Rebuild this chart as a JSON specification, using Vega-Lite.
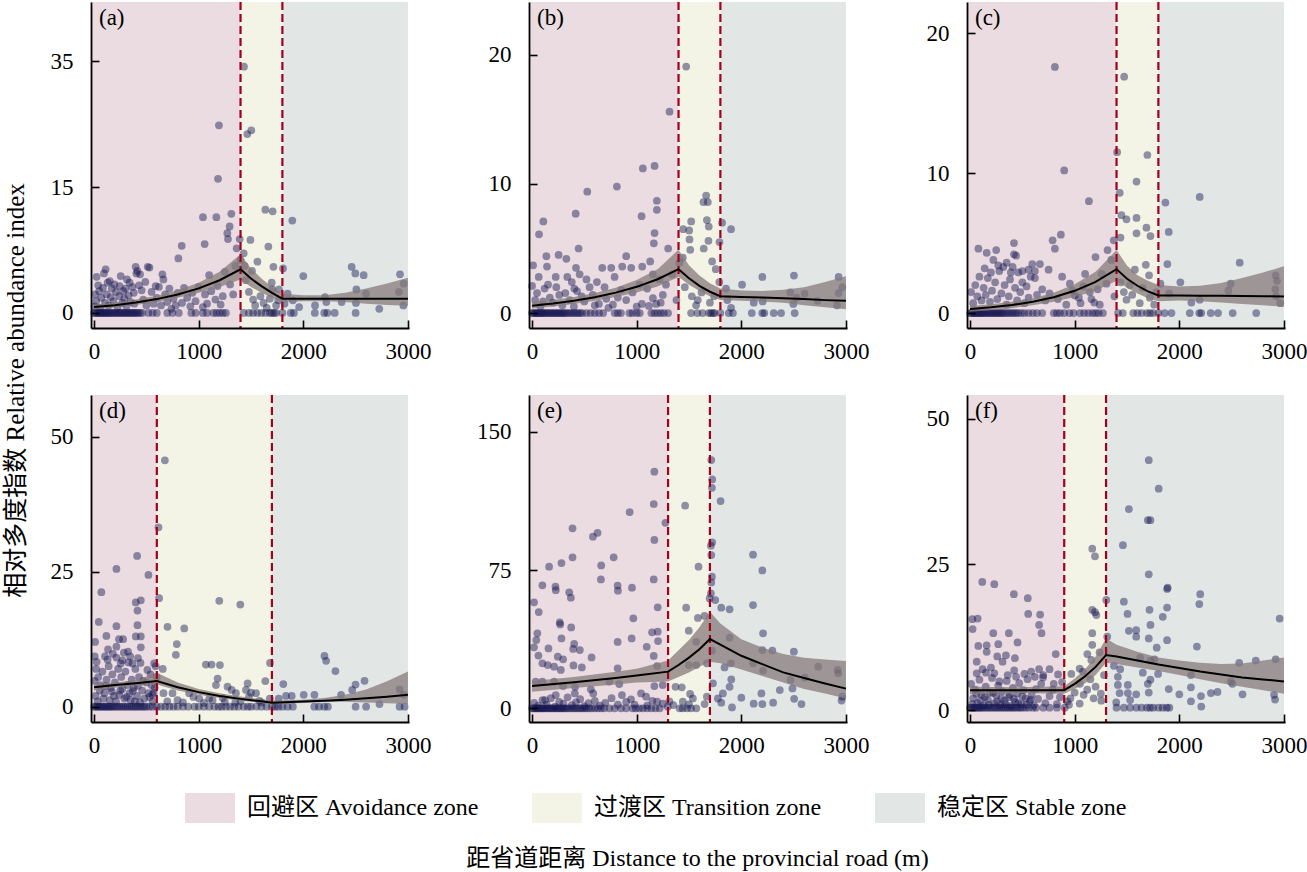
{
  "$schema": "https://vega.github.io/schema/vega-lite/v6.json",
  "background": "white",
  "padding": {"left": 3, "top": 0, "right": 5, "bottom": 2},
  "config": {
    "font": "'Liberation Serif', 'Noto Sans CJK SC'",
    "view": {"stroke": null},
    "axis": {
      "grid": false, "labelFontSize": 23, "labelColor": "#000",
      "domainColor": "#000", "domainWidth": 1.8, "tickColor": "#000",
      "tickWidth": 1.6, "tickSize": -8, "labelFlush": false,
      "titleFontSize": 24, "titleFontWeight": "normal", "titleColor": "#000"
    },
    "axisX": {"labelPadding": 20, "format": "d"},
    "axisY": {"labelPadding": 26}
  },
  "datasets": {
    "zones": [
      {"p":"a","zone":"回避区 Avoidance zone","x0":-29,"x1":1400},{"p":"a","zone":"过渡区 Transition zone","x0":1400,"x1":1800},{"p":"a","zone":"稳定区 Stable zone","x0":1800,"x1":3000},
      {"p":"b","zone":"回避区 Avoidance zone","x0":-29,"x1":1400},{"p":"b","zone":"过渡区 Transition zone","x0":1400,"x1":1800},{"p":"b","zone":"稳定区 Stable zone","x0":1800,"x1":3000},
      {"p":"c","zone":"回避区 Avoidance zone","x0":-29,"x1":1400},{"p":"c","zone":"过渡区 Transition zone","x0":1400,"x1":1800},{"p":"c","zone":"稳定区 Stable zone","x0":1800,"x1":3000},
      {"p":"d","zone":"回避区 Avoidance zone","x0":-29,"x1":600},{"p":"d","zone":"过渡区 Transition zone","x0":600,"x1":1700},{"p":"d","zone":"稳定区 Stable zone","x0":1700,"x1":3000},
      {"p":"e","zone":"回避区 Avoidance zone","x0":-29,"x1":1300},{"p":"e","zone":"过渡区 Transition zone","x0":1300,"x1":1700},{"p":"e","zone":"稳定区 Stable zone","x0":1700,"x1":3000},
      {"p":"f","zone":"回避区 Avoidance zone","x0":-29,"x1":900},{"p":"f","zone":"过渡区 Transition zone","x0":900,"x1":1300},{"p":"f","zone":"稳定区 Stable zone","x0":1300,"x1":3000}
    ],
    "bps": [
      {"p":"a","x":1400},{"p":"a","x":1800},{"p":"b","x":1400},{"p":"b","x":1800},{"p":"c","x":1400},{"p":"c","x":1800},
      {"p":"d","x":600},{"p":"d","x":1700},{"p":"e","x":1300},{"p":"e","x":1700},{"p":"f","x":900},{"p":"f","x":1300}
    ],
    "fit": [
      {"p":"a","x":0,"fit":0.7,"lo":0.4,"hi":1.0},{"p":"a","x":200,"fit":0.93,"lo":0.65,"hi":1.25},{"p":"a","x":400,"fit":1.24,"lo":0.95,"hi":1.6},{"p":"a","x":600,"fit":1.65,"lo":1.3,"hi":2.05},{"p":"a","x":800,"fit":2.2,"lo":1.8,"hi":2.7},{"p":"a","x":1000,"fit":2.93,"lo":2.4,"hi":3.6},{"p":"a","x":1200,"fit":3.9,"lo":3.1,"hi":4.9},{"p":"a","x":1400,"fit":5.2,"lo":4.0,"hi":7.0},{"p":"a","x":1500,"fit":4.1,"lo":3.1,"hi":5.3},{"p":"a","x":1600,"fit":3.2,"lo":2.4,"hi":4.1},{"p":"a","x":1700,"fit":2.4,"lo":1.8,"hi":3.1},{"p":"a","x":1800,"fit":1.7,"lo":1.3,"hi":2.3},{"p":"a","x":2000,"fit":1.7,"lo":1.4,"hi":2.1},{"p":"a","x":2200,"fit":1.7,"lo":1.4,"hi":2.1},{"p":"a","x":2400,"fit":1.7,"lo":1.3,"hi":2.4},{"p":"a","x":2600,"fit":1.7,"lo":1.1,"hi":2.9},{"p":"a","x":2800,"fit":1.7,"lo":0.95,"hi":3.5},{"p":"a","x":3000,"fit":1.7,"lo":0.85,"hi":4.2},
      {"p":"b","x":0,"fit":0.57,"lo":0.35,"hi":0.85},{"p":"b","x":200,"fit":0.74,"lo":0.5,"hi":1.0},{"p":"b","x":400,"fit":0.95,"lo":0.7,"hi":1.25},{"p":"b","x":600,"fit":1.22,"lo":0.95,"hi":1.55},{"p":"b","x":800,"fit":1.58,"lo":1.25,"hi":1.95},{"p":"b","x":1000,"fit":2.03,"lo":1.6,"hi":2.55},{"p":"b","x":1200,"fit":2.62,"lo":2.05,"hi":3.4},{"p":"b","x":1400,"fit":3.4,"lo":2.8,"hi":4.9},{"p":"b","x":1500,"fit":2.7,"lo":2.2,"hi":3.7},{"p":"b","x":1600,"fit":2.1,"lo":1.7,"hi":2.9},{"p":"b","x":1700,"fit":1.65,"lo":1.3,"hi":2.3},{"p":"b","x":1800,"fit":1.3,"lo":1.0,"hi":1.9},{"p":"b","x":2000,"fit":1.25,"lo":0.95,"hi":1.75},{"p":"b","x":2200,"fit":1.2,"lo":0.9,"hi":1.7},{"p":"b","x":2400,"fit":1.15,"lo":0.8,"hi":1.8},{"p":"b","x":2600,"fit":1.08,"lo":0.6,"hi":2.0},{"p":"b","x":2800,"fit":1.0,"lo":0.45,"hi":2.4},{"p":"b","x":3000,"fit":0.95,"lo":0.3,"hi":2.85},
      {"p":"c","x":0,"fit":0.29,"lo":0.1,"hi":0.5},{"p":"c","x":200,"fit":0.41,"lo":0.2,"hi":0.62},{"p":"c","x":400,"fit":0.57,"lo":0.35,"hi":0.8},{"p":"c","x":600,"fit":0.8,"lo":0.55,"hi":1.05},{"p":"c","x":800,"fit":1.13,"lo":0.8,"hi":1.45},{"p":"c","x":1000,"fit":1.59,"lo":1.15,"hi":2.05},{"p":"c","x":1200,"fit":2.23,"lo":1.6,"hi":2.95},{"p":"c","x":1400,"fit":3.14,"lo":2.3,"hi":4.5},{"p":"c","x":1500,"fit":2.45,"lo":1.8,"hi":3.4},{"p":"c","x":1600,"fit":1.95,"lo":1.4,"hi":2.7},{"p":"c","x":1700,"fit":1.55,"lo":1.05,"hi":2.3},{"p":"c","x":1800,"fit":1.26,"lo":0.85,"hi":2.0},{"p":"c","x":2000,"fit":1.25,"lo":0.9,"hi":1.9},{"p":"c","x":2200,"fit":1.24,"lo":0.85,"hi":1.95},{"p":"c","x":2400,"fit":1.23,"lo":0.75,"hi":2.15},{"p":"c","x":2600,"fit":1.22,"lo":0.65,"hi":2.5},{"p":"c","x":2800,"fit":1.2,"lo":0.55,"hi":2.9},{"p":"c","x":3000,"fit":1.19,"lo":0.45,"hi":3.35},
      {"p":"d","x":0,"fit":3.6,"lo":3.0,"hi":4.3},{"p":"d","x":200,"fit":4.0,"lo":3.5,"hi":4.5},{"p":"d","x":400,"fit":4.35,"lo":3.9,"hi":4.9},{"p":"d","x":600,"fit":4.75,"lo":4.1,"hi":6.3},{"p":"d","x":800,"fit":3.6,"lo":3.0,"hi":4.5},{"p":"d","x":1000,"fit":2.7,"lo":2.2,"hi":3.3},{"p":"d","x":1200,"fit":2.0,"lo":1.6,"hi":2.5},{"p":"d","x":1400,"fit":1.45,"lo":1.1,"hi":1.9},{"p":"d","x":1600,"fit":1.0,"lo":0.7,"hi":1.4},{"p":"d","x":1700,"fit":0.75,"lo":0.5,"hi":1.15},{"p":"d","x":2000,"fit":0.95,"lo":0.7,"hi":1.3},{"p":"d","x":2200,"fit":1.1,"lo":0.85,"hi":1.6},{"p":"d","x":2400,"fit":1.3,"lo":0.9,"hi":2.2},{"p":"d","x":2600,"fit":1.55,"lo":0.8,"hi":3.2},{"p":"d","x":2800,"fit":1.85,"lo":0.65,"hi":4.7},{"p":"d","x":3000,"fit":2.2,"lo":0.5,"hi":6.5},
      {"p":"e","x":0,"fit":12.1,"lo":9.0,"hi":14.8},{"p":"e","x":400,"fit":14.2,"lo":11.0,"hi":17.0},{"p":"e","x":800,"fit":16.5,"lo":13.0,"hi":19.8},{"p":"e","x":1000,"fit":17.8,"lo":14.0,"hi":21.5},{"p":"e","x":1300,"fit":19.9,"lo":14.5,"hi":26.0},{"p":"e","x":1400,"fit":23.5,"lo":17.0,"hi":31.5},{"p":"e","x":1500,"fit":27.5,"lo":19.5,"hi":37.0},{"p":"e","x":1600,"fit":32.0,"lo":22.5,"hi":44.0},{"p":"e","x":1700,"fit":37.6,"lo":25.3,"hi":52.4},{"p":"e","x":1800,"fit":34.5,"lo":24.5,"hi":46.0},{"p":"e","x":2000,"fit":28.5,"lo":21.0,"hi":37.5},{"p":"e","x":2200,"fit":24.0,"lo":17.5,"hi":33.0},{"p":"e","x":2400,"fit":19.5,"lo":14.0,"hi":29.5},{"p":"e","x":2600,"fit":16.5,"lo":10.5,"hi":27.5},{"p":"e","x":2800,"fit":13.5,"lo":8.0,"hi":26.5},{"p":"e","x":3000,"fit":10.7,"lo":5.4,"hi":25.7},
      {"p":"f","x":0,"fit":3.4,"lo":2.7,"hi":4.0},{"p":"f","x":450,"fit":3.4,"lo":2.9,"hi":3.9},{"p":"f","x":900,"fit":3.4,"lo":2.8,"hi":4.1},{"p":"f","x":1000,"fit":4.5,"lo":3.6,"hi":5.4},{"p":"f","x":1100,"fit":5.8,"lo":4.6,"hi":7.0},{"p":"f","x":1200,"fit":7.4,"lo":6.0,"hi":9.2},{"p":"f","x":1300,"fit":9.45,"lo":8.1,"hi":12.3},{"p":"f","x":1400,"fit":9.2,"lo":7.9,"hi":11.2},{"p":"f","x":1600,"fit":8.5,"lo":7.3,"hi":10.0},{"p":"f","x":1800,"fit":7.8,"lo":6.7,"hi":9.0},{"p":"f","x":2000,"fit":7.2,"lo":6.0,"hi":8.5},{"p":"f","x":2200,"fit":6.6,"lo":5.3,"hi":8.1},{"p":"f","x":2400,"fit":6.1,"lo":4.6,"hi":7.9},{"p":"f","x":2600,"fit":5.6,"lo":4.0,"hi":8.0},{"p":"f","x":2800,"fit":5.25,"lo":3.4,"hi":8.5},{"p":"f","x":3000,"fit":4.9,"lo":2.8,"hi":9.0}
    ],
    "pts": [
      {"p":"a","x":1433,"y":34.1},{"p":"a","x":1194,"y":24.8},{"p":"a","x":1465,"y":23.4},{"p":"a","x":1503,"y":24.0},{"p":"a","x":1185,"y":16.3},{"p":"a","x":1041,"y":11.4},{"p":"a","x":1169,"y":11.4},{"p":"a","x":1312,"y":11.8},{"p":"a","x":1296,"y":10.3},{"p":"a","x":1274,"y":9.5},{"p":"a","x":1280,"y":8.8},{"p":"a","x":1392,"y":8.8},{"p":"a","x":1494,"y":8.7},{"p":"a","x":1637,"y":12.3},{"p":"a","x":1707,"y":12.1},{"p":"a","x":1895,"y":11.0},{"p":"a","x":838,"y":8.0},{"p":"a","x":806,"y":6.5},{"p":"a","x":1057,"y":8.2},{"p":"a","x":1363,"y":7.7},{"p":"a","x":1430,"y":7.1},{"p":"a","x":1666,"y":7.9},{"p":"a","x":1561,"y":6.1},{"p":"a","x":1714,"y":5.5},{"p":"a","x":1806,"y":5.3},{"p":"a","x":2000,"y":4.4},{"p":"a","x":2462,"y":5.5},{"p":"a","x":2497,"y":4.7},{"p":"a","x":2577,"y":4.5},{"p":"a","x":2924,"y":4.6},{"p":"a","x":2959,"y":3.5},{"p":"a","x":2914,"y":2.5},{"p":"a","x":2599,"y":2.3},{"p":"a","x":2507,"y":2.8},{"p":"a","x":2366,"y":1.3},{"p":"a","x":2207,"y":1.9},{"p":"a","x":2503,"y":1.2},{"p":"a","x":2726,"y":0.5},{"p":"a","x":2956,"y":0.9},{"p":"a","x":2112,"y":0.9},{"p":"a","x":1768,"y":2.8},{"p":"a","x":1698,"y":3.6},{"p":"a","x":1704,"y":2.8},{"p":"a","x":1450,"y":3.9},{"p":"a","x":1480,"y":2.5},{"p":"a","x":1520,"y":1.6},{"p":"a","x":1540,"y":0.9},{"p":"a","x":1590,"y":2.0},{"p":"a","x":1620,"y":1.2},{"p":"a","x":1650,"y":0.6},{"p":"a","x":1680,"y":1.7},{"p":"a","x":1740,"y":0.9},{"p":"a","x":1760,"y":1.5},{"p":"a","x":1820,"y":1.1},{"p":"a","x":1850,"y":2.3},{"p":"a","x":1900,"y":1.5},{"p":"a","x":1960,"y":0.7},{"p":"a","x":2220,"y":1.3},{"p":"a","x":1440,"y":5.6},{"p":"a","x":1510,"y":5.0},{"p":"a","x":1400,"y":6.3},{"p":"a","x":1350,"y":5.6},{"p":"a","x":1300,"y":3.4},{"p":"a","x":1330,"y":2.2},{"p":"a","x":1250,"y":4.9},{"p":"a","x":1230,"y":2.0},{"p":"a","x":1210,"y":1.0},{"p":"a","x":1180,"y":3.2},{"p":"a","x":1160,"y":1.6},{"p":"a","x":1120,"y":2.6},{"p":"a","x":1100,"y":4.5},{"p":"a","x":1080,"y":1.1},{"p":"a","x":1060,"y":2.2},{"p":"a","x":1040,"y":0.7},{"p":"a","x":1000,"y":3.1},{"p":"a","x":970,"y":1.4},{"p":"a","x":940,"y":2.4},{"p":"a","x":920,"y":0.8},{"p":"a","x":890,"y":1.8},{"p":"a","x":860,"y":3.0},{"p":"a","x":840,"y":1.2},{"p":"a","x":800,"y":2.4},{"p":"a","x":780,"y":0.9},{"p":"a","x":760,"y":1.7},{"p":"a","x":740,"y":0.5},{"p":"a","x":720,"y":2.9},{"p":"a","x":700,"y":1.3},{"p":"a","x":680,"y":2.2},{"p":"a","x":663,"y":4.0},{"p":"a","x":653,"y":4.6},{"p":"a","x":640,"y":0.9},{"p":"a","x":620,"y":3.1},{"p":"a","x":600,"y":1.8},{"p":"a","x":589,"y":3.2},{"p":"a","x":570,"y":1.1},{"p":"a","x":550,"y":2.5},{"p":"a","x":530,"y":5.4},{"p":"a","x":513,"y":5.5},{"p":"a","x":500,"y":0.9},{"p":"a","x":490,"y":3.7},{"p":"a","x":470,"y":1.6},{"p":"a","x":455,"y":2.7},{"p":"a","x":440,"y":4.6},{"p":"a","x":430,"y":3.3},{"p":"a","x":414,"y":5.0},{"p":"a","x":405,"y":4.7},{"p":"a","x":398,"y":5.5},{"p":"a","x":385,"y":1.1},{"p":"a","x":380,"y":2.4},{"p":"a","x":365,"y":3.1},{"p":"a","x":350,"y":1.3},{"p":"a","x":340,"y":3.6},{"p":"a","x":330,"y":2.1},{"p":"a","x":315,"y":4.0},{"p":"a","x":310,"y":0.8},{"p":"a","x":300,"y":2.9},{"p":"a","x":290,"y":1.7},{"p":"a","x":280,"y":2.6},{"p":"a","x":270,"y":1.2},{"p":"a","x":255,"y":4.4},{"p":"a","x":245,"y":3.2},{"p":"a","x":240,"y":2.0},{"p":"a","x":225,"y":0.7},{"p":"a","x":210,"y":2.5},{"p":"a","x":195,"y":3.4},{"p":"a","x":185,"y":1.4},{"p":"a","x":170,"y":2.9},{"p":"a","x":160,"y":1.9},{"p":"a","x":150,"y":3.8},{"p":"a","x":140,"y":0.9},{"p":"a","x":130,"y":3.6},{"p":"a","x":120,"y":2.2},{"p":"a","x":111,"y":5.2},{"p":"a","x":105,"y":1.2},{"p":"a","x":95,"y":4.7},{"p":"a","x":85,"y":3.0},{"p":"a","x":70,"y":1.8},{"p":"a","x":60,"y":0.6},{"p":"a","x":50,"y":2.6},{"p":"a","x":40,"y":3.3},{"p":"a","x":25,"y":4.3},{"p":"a","x":20,"y":1.4},{"p":"a","x":10,"y":2.2},{"p":"a","x":5,"y":0.8},
      {"p":"a","x":0,"y":0},{"p":"a","x":12,"y":0},{"p":"a","x":25,"y":0},{"p":"a","x":38,"y":0},{"p":"a","x":50,"y":0},{"p":"a","x":62,"y":0},{"p":"a","x":75,"y":0},{"p":"a","x":88,"y":0},{"p":"a","x":100,"y":0},{"p":"a","x":112,"y":0},{"p":"a","x":125,"y":0},{"p":"a","x":138,"y":0},{"p":"a","x":150,"y":0},{"p":"a","x":165,"y":0},{"p":"a","x":180,"y":0},{"p":"a","x":195,"y":0},{"p":"a","x":210,"y":0},{"p":"a","x":225,"y":0},{"p":"a","x":240,"y":0},{"p":"a","x":255,"y":0},{"p":"a","x":270,"y":0},{"p":"a","x":285,"y":0},{"p":"a","x":300,"y":0},{"p":"a","x":315,"y":0},{"p":"a","x":330,"y":0},{"p":"a","x":345,"y":0},{"p":"a","x":360,"y":0},{"p":"a","x":375,"y":0},{"p":"a","x":390,"y":0},{"p":"a","x":405,"y":0},{"p":"a","x":420,"y":0},{"p":"a","x":440,"y":0},{"p":"a","x":460,"y":0},{"p":"a","x":520,"y":0},{"p":"a","x":560,"y":0},{"p":"a","x":600,"y":0},{"p":"a","x":700,"y":0},{"p":"a","x":750,"y":0},{"p":"a","x":810,"y":0},{"p":"a","x":930,"y":0},{"p":"a","x":970,"y":0},{"p":"a","x":1040,"y":0},{"p":"a","x":1080,"y":0},{"p":"a","x":1140,"y":0},{"p":"a","x":1170,"y":0},{"p":"a","x":1200,"y":0},{"p":"a","x":1230,"y":0},{"p":"a","x":1260,"y":0},{"p":"a","x":1430,"y":0},{"p":"a","x":1480,"y":0},{"p":"a","x":1520,"y":0},{"p":"a","x":1560,"y":0},{"p":"a","x":1600,"y":0},{"p":"a","x":1640,"y":0},{"p":"a","x":1680,"y":0},{"p":"a","x":1700,"y":0},{"p":"a","x":1720,"y":0},{"p":"a","x":1740,"y":0},{"p":"a","x":1800,"y":0},{"p":"a","x":1880,"y":0},{"p":"a","x":1910,"y":0},{"p":"a","x":2110,"y":0},{"p":"a","x":2200,"y":0},{"p":"a","x":2230,"y":0},{"p":"a","x":2300,"y":0},{"p":"a","x":2500,"y":0},

      {"p":"b","x":1473,"y":19.1},{"p":"b","x":1314,"y":15.6},{"p":"b","x":1171,"y":11.4},{"p":"b","x":1059,"y":11.2},{"p":"b","x":811,"y":9.8},{"p":"b","x":528,"y":9.4},{"p":"b","x":1193,"y":8.7},{"p":"b","x":1193,"y":8.0},{"p":"b","x":1047,"y":7.5},{"p":"b","x":417,"y":7.7},{"p":"b","x":108,"y":7.1},{"p":"b","x":67,"y":6.1},{"p":"b","x":1171,"y":6.2},{"p":"b","x":1164,"y":5.4},{"p":"b","x":1301,"y":5.0},{"p":"b","x":1664,"y":9.1},{"p":"b","x":1680,"y":8.6},{"p":"b","x":1638,"y":8.6},{"p":"b","x":1671,"y":7.2},{"p":"b","x":1689,"y":6.7},{"p":"b","x":1686,"y":5.6},{"p":"b","x":1641,"y":5.0},{"p":"b","x":1521,"y":7.1},{"p":"b","x":1444,"y":6.5},{"p":"b","x":1502,"y":6.4},{"p":"b","x":1505,"y":5.7},{"p":"b","x":1512,"y":4.9},{"p":"b","x":1816,"y":7.0},{"p":"b","x":1902,"y":6.5},{"p":"b","x":1791,"y":5.5},{"p":"b","x":1721,"y":4.0},{"p":"b","x":1756,"y":3.4},{"p":"b","x":1441,"y":4.3},{"p":"b","x":1409,"y":3.9},{"p":"b","x":2007,"y":2.2},{"p":"b","x":2201,"y":2.8},{"p":"b","x":2503,"y":2.9},{"p":"b","x":2930,"y":2.8},{"p":"b","x":2965,"y":2.0},{"p":"b","x":2468,"y":1.6},{"p":"b","x":2605,"y":1.5},{"p":"b","x":2529,"y":1.2},{"p":"b","x":2930,"y":1.55},{"p":"b","x":2914,"y":0.6},{"p":"b","x":2729,"y":0.95},{"p":"b","x":2119,"y":0.8},{"p":"b","x":2204,"y":0.9},{"p":"b","x":2497,"y":0.7},{"p":"b","x":1902,"y":0.4},{"p":"b","x":1867,"y":1.0},{"p":"b","x":1854,"y":1.9},{"p":"b","x":1568,"y":0.6},{"p":"b","x":1527,"y":1.3},{"p":"b","x":1584,"y":1.0},{"p":"b","x":1460,"y":2.0},{"p":"b","x":1620,"y":1.6},{"p":"b","x":1700,"y":0.8},{"p":"b","x":1740,"y":1.3},{"p":"b","x":1790,"y":2.4},
      {"p":"b","x":10,"y":3.7},{"p":"b","x":64,"y":2.8},{"p":"b","x":137,"y":4.4},{"p":"b","x":143,"y":3.6},{"p":"b","x":254,"y":4.5},{"p":"b","x":328,"y":4.2},{"p":"b","x":420,"y":3.5},{"p":"b","x":455,"y":3.0},{"p":"b","x":445,"y":5.0},{"p":"b","x":671,"y":3.5},{"p":"b","x":757,"y":3.5},{"p":"b","x":862,"y":3.6},{"p":"b","x":900,"y":4.4},{"p":"b","x":948,"y":3.5},{"p":"b","x":1053,"y":3.6},{"p":"b","x":1129,"y":4.0},{"p":"b","x":1155,"y":3.0},{"p":"b","x":789,"y":2.8},{"p":"b","x":1027,"y":2.2},{"p":"b","x":693,"y":2.0},{"p":"b","x":0,"y":2.1},{"p":"b","x":153,"y":2.2},{"p":"b","x":226,"y":2.8},{"p":"b","x":337,"y":2.8},{"p":"b","x":232,"y":2.0},{"p":"b","x":318,"y":1.55},{"p":"b","x":404,"y":1.9},{"p":"b","x":550,"y":2.0},{"p":"b","x":48,"y":1.55},{"p":"b","x":105,"y":0.9},{"p":"b","x":200,"y":0.8},{"p":"b","x":474,"y":1.3},{"p":"b","x":639,"y":0.7},{"p":"b","x":773,"y":0.65},{"p":"b","x":900,"y":1.0},{"p":"b","x":1050,"y":0.7},{"p":"b","x":1155,"y":1.15},{"p":"b","x":1186,"y":0.7},{"p":"b","x":1117,"y":0.55},{"p":"b","x":1218,"y":2.6},{"p":"b","x":852,"y":1.8},{"p":"b","x":30,"y":1.0},{"p":"b","x":80,"y":0.5},{"p":"b","x":120,"y":1.9},{"p":"b","x":170,"y":1.2},{"p":"b","x":260,"y":1.4},{"p":"b","x":290,"y":0.6},{"p":"b","x":360,"y":1.0},{"p":"b","x":380,"y":2.4},{"p":"b","x":400,"y":0.5},{"p":"b","x":430,"y":1.7},{"p":"b","x":500,"y":0.9},{"p":"b","x":520,"y":2.6},{"p":"b","x":580,"y":1.4},{"p":"b","x":600,"y":0.6},{"p":"b","x":620,"y":2.4},{"p":"b","x":710,"y":1.1},{"p":"b","x":730,"y":0.4},{"p":"b","x":820,"y":1.2},{"p":"b","x":960,"y":1.6},{"p":"b","x":1000,"y":0.5},{"p":"b","x":1100,"y":1.9},{"p":"b","x":1250,"y":1.4},{"p":"b","x":1280,"y":2.2},{"p":"b","x":1340,"y":3.0},{"p":"b","x":1380,"y":1.0},{"p":"b","x":1230,"y":0.8},
      {"p":"b","x":0,"y":0},{"p":"b","x":12,"y":0},{"p":"b","x":25,"y":0},{"p":"b","x":38,"y":0},{"p":"b","x":50,"y":0},{"p":"b","x":62,"y":0},{"p":"b","x":75,"y":0},{"p":"b","x":88,"y":0},{"p":"b","x":100,"y":0},{"p":"b","x":112,"y":0},{"p":"b","x":125,"y":0},{"p":"b","x":140,"y":0},{"p":"b","x":155,"y":0},{"p":"b","x":170,"y":0},{"p":"b","x":185,"y":0},{"p":"b","x":200,"y":0},{"p":"b","x":215,"y":0},{"p":"b","x":230,"y":0},{"p":"b","x":245,"y":0},{"p":"b","x":260,"y":0},{"p":"b","x":275,"y":0},{"p":"b","x":290,"y":0},{"p":"b","x":305,"y":0},{"p":"b","x":320,"y":0},{"p":"b","x":340,"y":0},{"p":"b","x":360,"y":0},{"p":"b","x":380,"y":0},{"p":"b","x":400,"y":0},{"p":"b","x":420,"y":0},{"p":"b","x":440,"y":0},{"p":"b","x":460,"y":0},{"p":"b","x":480,"y":0},{"p":"b","x":520,"y":0},{"p":"b","x":560,"y":0},{"p":"b","x":600,"y":0},{"p":"b","x":640,"y":0},{"p":"b","x":680,"y":0},{"p":"b","x":790,"y":0},{"p":"b","x":820,"y":0},{"p":"b","x":850,"y":0},{"p":"b","x":930,"y":0},{"p":"b","x":960,"y":0},{"p":"b","x":1000,"y":0},{"p":"b","x":1030,"y":0},{"p":"b","x":1140,"y":0},{"p":"b","x":1170,"y":0},{"p":"b","x":1200,"y":0},{"p":"b","x":1230,"y":0},{"p":"b","x":1260,"y":0},{"p":"b","x":1300,"y":0},{"p":"b","x":1520,"y":0},{"p":"b","x":1580,"y":0},{"p":"b","x":1630,"y":0},{"p":"b","x":1690,"y":0},{"p":"b","x":1710,"y":0},{"p":"b","x":1730,"y":0},{"p":"b","x":1745,"y":0},{"p":"b","x":1800,"y":0},{"p":"b","x":1880,"y":0},{"p":"b","x":1920,"y":0},{"p":"b","x":2100,"y":0},{"p":"b","x":2200,"y":0},{"p":"b","x":2220,"y":0},{"p":"b","x":2310,"y":0},{"p":"b","x":2380,"y":0},{"p":"b","x":2510,"y":0},

      {"p":"c","x":811,"y":17.6},{"p":"c","x":1473,"y":16.9},{"p":"c","x":900,"y":10.2},{"p":"c","x":1406,"y":11.5},{"p":"c","x":1695,"y":11.3},{"p":"c","x":1591,"y":9.4},{"p":"c","x":1431,"y":8.6},{"p":"c","x":1136,"y":8.0},{"p":"c","x":1867,"y":7.9},{"p":"c","x":2195,"y":8.3},{"p":"c","x":1447,"y":7.0},{"p":"c","x":1495,"y":6.7},{"p":"c","x":1591,"y":6.8},{"p":"c","x":1686,"y":6.1},{"p":"c","x":1591,"y":5.7},{"p":"c","x":1724,"y":5.5},{"p":"c","x":1899,"y":5.8},{"p":"c","x":1438,"y":5.4},{"p":"c","x":1374,"y":5.2},{"p":"c","x":868,"y":5.6},{"p":"c","x":789,"y":5.2},{"p":"c","x":811,"y":4.6},{"p":"c","x":1314,"y":4.5},{"p":"c","x":1199,"y":4.0},{"p":"c","x":420,"y":5.0},{"p":"c","x":420,"y":4.2},{"p":"c","x":159,"y":4.3},{"p":"c","x":223,"y":3.8},{"p":"c","x":595,"y":3.5},{"p":"c","x":668,"y":3.5},{"p":"c","x":751,"y":3.1},{"p":"c","x":318,"y":3.3},{"p":"c","x":407,"y":3.3},{"p":"c","x":461,"y":2.9},{"p":"c","x":382,"y":2.4},{"p":"c","x":620,"y":2.5},{"p":"c","x":2577,"y":3.6},{"p":"c","x":1886,"y":3.5},{"p":"c","x":1680,"y":3.45},{"p":"c","x":2920,"y":2.7},{"p":"c","x":2933,"y":2.3},{"p":"c","x":2491,"y":2.1},{"p":"c","x":2469,"y":1.6},{"p":"c","x":2917,"y":1.7},{"p":"c","x":2926,"y":1.2},{"p":"c","x":2965,"y":0.7},{"p":"c","x":2115,"y":0.75},{"p":"c","x":2010,"y":2.2},{"p":"c","x":1820,"y":2.1},{"p":"c","x":1902,"y":1.4},{"p":"c","x":2195,"y":0.95},{"p":"c","x":1527,"y":2.0},{"p":"c","x":1575,"y":3.1},{"p":"c","x":1711,"y":2.7},{"p":"c","x":1495,"y":0.95},{"p":"c","x":1622,"y":0.7},{"p":"c","x":1718,"y":1.1},{"p":"c","x":1304,"y":2.1},{"p":"c","x":1145,"y":1.5},{"p":"c","x":1082,"y":1.9},{"p":"c","x":954,"y":2.1},{"p":"c","x":1056,"y":0.7},{"p":"c","x":1187,"y":0.75},{"p":"c","x":1002,"y":1.25},{"p":"c","x":1440,"y":2.2},{"p":"c","x":1470,"y":1.5},{"p":"c","x":1550,"y":1.3},{"p":"c","x":1650,"y":1.8},{"p":"c","x":1760,"y":0.6},{"p":"c","x":1780,"y":1.5},
      {"p":"c","x":10,"y":1.5},{"p":"c","x":30,"y":0.7},{"p":"c","x":50,"y":2.0},{"p":"c","x":70,"y":1.2},{"p":"c","x":90,"y":2.6},{"p":"c","x":110,"y":0.9},{"p":"c","x":130,"y":1.8},{"p":"c","x":150,"y":1.3},{"p":"c","x":170,"y":2.5},{"p":"c","x":190,"y":0.8},{"p":"c","x":210,"y":1.6},{"p":"c","x":240,"y":2.2},{"p":"c","x":260,"y":1.0},{"p":"c","x":280,"y":3.0},{"p":"c","x":300,"y":1.4},{"p":"c","x":330,"y":2.0},{"p":"c","x":350,"y":0.6},{"p":"c","x":370,"y":1.2},{"p":"c","x":390,"y":2.9},{"p":"c","x":430,"y":1.8},{"p":"c","x":450,"y":0.9},{"p":"c","x":480,"y":1.5},{"p":"c","x":500,"y":2.2},{"p":"c","x":520,"y":0.7},{"p":"c","x":540,"y":1.9},{"p":"c","x":560,"y":1.1},{"p":"c","x":580,"y":2.6},{"p":"c","x":640,"y":1.3},{"p":"c","x":690,"y":1.7},{"p":"c","x":720,"y":0.9},{"p":"c","x":760,"y":1.4},{"p":"c","x":840,"y":1.0},{"p":"c","x":880,"y":2.6},{"p":"c","x":920,"y":0.6},{"p":"c","x":980,"y":1.6},{"p":"c","x":1040,"y":1.1},{"p":"c","x":1100,"y":2.8},{"p":"c","x":1160,"y":1.0},{"p":"c","x":1220,"y":1.7},{"p":"c","x":1260,"y":2.8},{"p":"c","x":1350,"y":3.8},{"p":"c","x":1380,"y":1.2},{"p":"c","x":1240,"y":0.6},{"p":"c","x":80,"y":4.6},{"p":"c","x":140,"y":3.2},{"p":"c","x":200,"y":2.9},{"p":"c","x":250,"y":4.5},{"p":"c","x":270,"y":3.4},{"p":"c","x":350,"y":3.6},{"p":"c","x":440,"y":4.1},{"p":"c","x":500,"y":3.0},{"p":"c","x":620,"y":3.0},{"p":"c","x":560,"y":3.1},
      {"p":"c","x":0,"y":0},{"p":"c","x":12,"y":0},{"p":"c","x":25,"y":0},{"p":"c","x":38,"y":0},{"p":"c","x":50,"y":0},{"p":"c","x":62,"y":0},{"p":"c","x":75,"y":0},{"p":"c","x":88,"y":0},{"p":"c","x":100,"y":0},{"p":"c","x":112,"y":0},{"p":"c","x":125,"y":0},{"p":"c","x":140,"y":0},{"p":"c","x":155,"y":0},{"p":"c","x":170,"y":0},{"p":"c","x":185,"y":0},{"p":"c","x":200,"y":0},{"p":"c","x":215,"y":0},{"p":"c","x":230,"y":0},{"p":"c","x":245,"y":0},{"p":"c","x":260,"y":0},{"p":"c","x":275,"y":0},{"p":"c","x":290,"y":0},{"p":"c","x":305,"y":0},{"p":"c","x":320,"y":0},{"p":"c","x":340,"y":0},{"p":"c","x":360,"y":0},{"p":"c","x":380,"y":0},{"p":"c","x":400,"y":0},{"p":"c","x":420,"y":0},{"p":"c","x":440,"y":0},{"p":"c","x":460,"y":0},{"p":"c","x":490,"y":0},{"p":"c","x":520,"y":0},{"p":"c","x":560,"y":0},{"p":"c","x":600,"y":0},{"p":"c","x":640,"y":0},{"p":"c","x":690,"y":0},{"p":"c","x":800,"y":0},{"p":"c","x":830,"y":0},{"p":"c","x":860,"y":0},{"p":"c","x":900,"y":0},{"p":"c","x":950,"y":0},{"p":"c","x":990,"y":0},{"p":"c","x":1050,"y":0},{"p":"c","x":1090,"y":0},{"p":"c","x":1130,"y":0},{"p":"c","x":1170,"y":0},{"p":"c","x":1200,"y":0},{"p":"c","x":1230,"y":0},{"p":"c","x":1270,"y":0},{"p":"c","x":1415,"y":0},{"p":"c","x":1460,"y":0},{"p":"c","x":1560,"y":0},{"p":"c","x":1600,"y":0},{"p":"c","x":1640,"y":0},{"p":"c","x":1690,"y":0},{"p":"c","x":1720,"y":0},{"p":"c","x":1750,"y":0},{"p":"c","x":1800,"y":0},{"p":"c","x":1860,"y":0},{"p":"c","x":1925,"y":0},{"p":"c","x":2100,"y":0},{"p":"c","x":2190,"y":0},{"p":"c","x":2210,"y":0},{"p":"c","x":2300,"y":0},{"p":"c","x":2370,"y":0},{"p":"c","x":2510,"y":0},{"p":"c","x":2735,"y":0},

      {"p":"d","x":677,"y":45.6},{"p":"d","x":616,"y":33.2},{"p":"d","x":412,"y":27.9},{"p":"d","x":214,"y":25.5},{"p":"d","x":520,"y":24.4},{"p":"d","x":70,"y":21.2},{"p":"d","x":399,"y":19.3},{"p":"d","x":447,"y":19.7},{"p":"d","x":622,"y":20.1},{"p":"d","x":1197,"y":19.6},{"p":"d","x":1398,"y":18.9},{"p":"d","x":415,"y":17.8},{"p":"d","x":45,"y":15.7},{"p":"d","x":415,"y":15.1},{"p":"d","x":702,"y":14.8},{"p":"d","x":862,"y":14.5},{"p":"d","x":214,"y":14.9},{"p":"d","x":118,"y":13.1},{"p":"d","x":399,"y":13.0},{"p":"d","x":447,"y":13.0},{"p":"d","x":239,"y":12.5},{"p":"d","x":278,"y":12.5},{"p":"d","x":10,"y":12.0},{"p":"d","x":214,"y":11.1},{"p":"d","x":447,"y":11.0},{"p":"d","x":134,"y":10.6},{"p":"d","x":791,"y":11.6},{"p":"d","x":782,"y":9.6},{"p":"d","x":325,"y":10.2},{"p":"d","x":345,"y":9.3},{"p":"d","x":214,"y":9.1},{"p":"d","x":105,"y":9.3},{"p":"d","x":6,"y":9.3},{"p":"d","x":271,"y":8.6},{"p":"d","x":444,"y":8.1},{"p":"d","x":367,"y":8.0},{"p":"d","x":574,"y":8.0},{"p":"d","x":1069,"y":7.8},{"p":"d","x":1123,"y":7.8},{"p":"d","x":1203,"y":7.7},{"p":"d","x":1682,"y":8.1},{"p":"d","x":657,"y":7.0},{"p":"d","x":2202,"y":9.4},{"p":"d","x":2218,"y":8.5},{"p":"d","x":2307,"y":6.6},{"p":"d","x":2585,"y":4.8},{"p":"d","x":2499,"y":4.1},{"p":"d","x":2467,"y":3.1},{"p":"d","x":2920,"y":3.2},{"p":"d","x":2961,"y":2.2},{"p":"d","x":2728,"y":0.5},{"p":"d","x":2361,"y":2.2},{"p":"d","x":2106,"y":2.2},{"p":"d","x":2004,"y":2.2},{"p":"d","x":1889,"y":2.0},{"p":"d","x":1809,"y":4.2},{"p":"d","x":1835,"y":2.0},{"p":"d","x":1765,"y":1.5},{"p":"d","x":1637,"y":4.75},{"p":"d","x":1468,"y":4.3},{"p":"d","x":1452,"y":3.1},{"p":"d","x":1500,"y":2.6},{"p":"d","x":1548,"y":2.5},{"p":"d","x":1315,"y":3.1},{"p":"d","x":1276,"y":3.7},{"p":"d","x":1356,"y":2.5},{"p":"d","x":1165,"y":4.0},{"p":"d","x":1181,"y":5.2},{"p":"d","x":1005,"y":1.5},{"p":"d","x":1101,"y":1.5},{"p":"d","x":909,"y":2.5},{"p":"d","x":750,"y":2.5},{"p":"d","x":798,"y":1.2},{"p":"d","x":664,"y":2.5},{"p":"d","x":558,"y":2.2},{"p":"d","x":1133,"y":1.2},
      {"p":"d","x":20,"y":7.0},{"p":"d","x":40,"y":5.5},{"p":"d","x":60,"y":4.0},{"p":"d","x":80,"y":6.5},{"p":"d","x":100,"y":2.5},{"p":"d","x":120,"y":5.0},{"p":"d","x":140,"y":7.5},{"p":"d","x":160,"y":3.5},{"p":"d","x":175,"y":6.0},{"p":"d","x":190,"y":2.0},{"p":"d","x":200,"y":4.5},{"p":"d","x":230,"y":7.0},{"p":"d","x":250,"y":3.0},{"p":"d","x":260,"y":5.5},{"p":"d","x":290,"y":1.5},{"p":"d","x":300,"y":6.5},{"p":"d","x":320,"y":4.0},{"p":"d","x":340,"y":2.5},{"p":"d","x":360,"y":5.0},{"p":"d","x":380,"y":3.5},{"p":"d","x":395,"y":7.0},{"p":"d","x":410,"y":2.0},{"p":"d","x":430,"y":5.5},{"p":"d","x":460,"y":3.0},{"p":"d","x":480,"y":1.5},{"p":"d","x":500,"y":4.5},{"p":"d","x":520,"y":2.5},{"p":"d","x":540,"y":6.0},{"p":"d","x":560,"y":1.0},{"p":"d","x":580,"y":3.5},{"p":"d","x":590,"y":7.5},{"p":"d","x":15,"y":2.0},{"p":"d","x":35,"y":1.0},{"p":"d","x":55,"y":3.0},{"p":"d","x":90,"y":1.5},{"p":"d","x":110,"y":3.8},{"p":"d","x":150,"y":1.2},{"p":"d","x":170,"y":2.8},{"p":"d","x":210,"y":1.0},{"p":"d","x":240,"y":2.2},{"p":"d","x":270,"y":3.3},{"p":"d","x":310,"y":1.8},{"p":"d","x":330,"y":8.2},{"p":"d","x":350,"y":1.2},{"p":"d","x":370,"y":2.9},{"p":"d","x":390,"y":1.0},{"p":"d","x":420,"y":3.9},{"p":"d","x":440,"y":0.8},{"p":"d","x":470,"y":4.8},{"p":"d","x":510,"y":6.8},{"p":"d","x":530,"y":1.8},{"p":"d","x":550,"y":4.0},{"p":"d","x":570,"y":2.6},{"p":"d","x":600,"y":5.5},{"p":"d","x":5,"y":4.8},{"p":"d","x":25,"y":8.3},{"p":"d","x":130,"y":8.7},{"p":"d","x":180,"y":9.8},{"p":"d","x":255,"y":8.0},{"p":"d","x":285,"y":10.0},{"p":"d","x":420,"y":9.0},{"p":"d","x":700,"y":1.0},{"p":"d","x":850,"y":0.8},{"p":"d","x":950,"y":1.8},{"p":"d","x":1050,"y":0.7},{"p":"d","x":1230,"y":1.6},{"p":"d","x":1400,"y":1.0},{"p":"d","x":1600,"y":0.8},{"p":"d","x":1680,"y":1.5},{"p":"d","x":1480,"y":1.8},{"p":"d","x":1580,"y":1.1},{"p":"d","x":1350,"y":0.8},{"p":"d","x":1250,"y":0.9},
      {"p":"d","x":0,"y":0},{"p":"d","x":15,"y":0},{"p":"d","x":30,"y":0},{"p":"d","x":45,"y":0},{"p":"d","x":60,"y":0},{"p":"d","x":75,"y":0},{"p":"d","x":90,"y":0},{"p":"d","x":105,"y":0},{"p":"d","x":120,"y":0},{"p":"d","x":135,"y":0},{"p":"d","x":150,"y":0},{"p":"d","x":165,"y":0},{"p":"d","x":180,"y":0},{"p":"d","x":200,"y":0},{"p":"d","x":220,"y":0},{"p":"d","x":240,"y":0},{"p":"d","x":260,"y":0},{"p":"d","x":280,"y":0},{"p":"d","x":300,"y":0},{"p":"d","x":320,"y":0},{"p":"d","x":340,"y":0},{"p":"d","x":360,"y":0},{"p":"d","x":380,"y":0},{"p":"d","x":400,"y":0},{"p":"d","x":420,"y":0},{"p":"d","x":440,"y":0},{"p":"d","x":460,"y":0},{"p":"d","x":480,"y":0},{"p":"d","x":500,"y":0},{"p":"d","x":530,"y":0},{"p":"d","x":560,"y":0},{"p":"d","x":600,"y":0},{"p":"d","x":640,"y":0},{"p":"d","x":680,"y":0},{"p":"d","x":720,"y":0},{"p":"d","x":760,"y":0},{"p":"d","x":800,"y":0},{"p":"d","x":850,"y":0},{"p":"d","x":900,"y":0},{"p":"d","x":960,"y":0},{"p":"d","x":1000,"y":0},{"p":"d","x":1050,"y":0},{"p":"d","x":1100,"y":0},{"p":"d","x":1150,"y":0},{"p":"d","x":1190,"y":0},{"p":"d","x":1220,"y":0},{"p":"d","x":1260,"y":0},{"p":"d","x":1300,"y":0},{"p":"d","x":1340,"y":0},{"p":"d","x":1380,"y":0},{"p":"d","x":1430,"y":0},{"p":"d","x":1470,"y":0},{"p":"d","x":1500,"y":0},{"p":"d","x":1550,"y":0},{"p":"d","x":1600,"y":0},{"p":"d","x":1650,"y":0},{"p":"d","x":1700,"y":0},{"p":"d","x":1730,"y":0},{"p":"d","x":1760,"y":0},{"p":"d","x":1800,"y":0},{"p":"d","x":1850,"y":0},{"p":"d","x":1900,"y":0},{"p":"d","x":2105,"y":0},{"p":"d","x":2150,"y":0},{"p":"d","x":2200,"y":0},{"p":"d","x":2235,"y":0},{"p":"d","x":2500,"y":0},{"p":"d","x":2600,"y":0},{"p":"d","x":2920,"y":0},{"p":"d","x":2968,"y":0},

      {"p":"e","x":1713,"y":134.6},{"p":"e","x":1722,"y":124.1},{"p":"e","x":1719,"y":119.6},{"p":"e","x":1169,"y":128.3},{"p":"e","x":1802,"y":112.4},{"p":"e","x":1163,"y":110.8},{"p":"e","x":1463,"y":109.9},{"p":"e","x":933,"y":106.4},{"p":"e","x":1275,"y":100.6},{"p":"e","x":387,"y":97.6},{"p":"e","x":626,"y":95.2},{"p":"e","x":582,"y":93.1},{"p":"e","x":1169,"y":91.3},{"p":"e","x":1722,"y":90.0},{"p":"e","x":1709,"y":88.2},{"p":"e","x":1713,"y":83.1},{"p":"e","x":2112,"y":83.3},{"p":"e","x":780,"y":81.9},{"p":"e","x":387,"y":81.9},{"p":"e","x":281,"y":78.8},{"p":"e","x":163,"y":76.8},{"p":"e","x":661,"y":77.5},{"p":"e","x":1591,"y":76.8},{"p":"e","x":2201,"y":74.8},{"p":"e","x":1719,"y":71.4},{"p":"e","x":658,"y":69.9},{"p":"e","x":1163,"y":69.9},{"p":"e","x":99,"y":66.7},{"p":"e","x":224,"y":66.0},{"p":"e","x":818,"y":66.5},{"p":"e","x":955,"y":65.4},{"p":"e","x":227,"y":64.1},{"p":"e","x":821,"y":63.8},{"p":"e","x":355,"y":62.9},{"p":"e","x":371,"y":60.0},{"p":"e","x":1713,"y":68.3},{"p":"e","x":1709,"y":62.3},{"p":"e","x":1697,"y":59.6},{"p":"e","x":1751,"y":58.7},{"p":"e","x":19,"y":57.5},{"p":"e","x":1201,"y":54.8},{"p":"e","x":1808,"y":54.6},{"p":"e","x":1888,"y":53.7},{"p":"e","x":2112,"y":56.0},{"p":"e","x":1473,"y":54.6},{"p":"e","x":64,"y":52.2},{"p":"e","x":968,"y":48.8},{"p":"e","x":1585,"y":49.0},{"p":"e","x":1649,"y":50.1},{"p":"e","x":265,"y":46.6},{"p":"e","x":269,"y":45.5},{"p":"e","x":374,"y":43.9},{"p":"e","x":2208,"y":40.7},{"p":"e","x":1498,"y":42.1},{"p":"e","x":1201,"y":41.6},{"p":"e","x":1147,"y":41.2},{"p":"e","x":51,"y":40.7},{"p":"e","x":281,"y":37.9},{"p":"e","x":952,"y":37.9},{"p":"e","x":818,"y":36.0},{"p":"e","x":1204,"y":36.5},{"p":"e","x":41,"y":37.0},{"p":"e","x":19,"y":33.1},{"p":"e","x":403,"y":34.9},{"p":"e","x":157,"y":32.5},{"p":"e","x":393,"y":32.2},{"p":"e","x":457,"y":31.6},{"p":"e","x":1096,"y":33.4},{"p":"e","x":1888,"y":38.3},{"p":"e","x":1569,"y":36.1},{"p":"e","x":1719,"y":31.3},{"p":"e","x":2201,"y":31.6},{"p":"e","x":2297,"y":31.3},{"p":"e","x":2502,"y":30.7},{"p":"e","x":61,"y":28.6},{"p":"e","x":246,"y":28.0},{"p":"e","x":297,"y":26.6},{"p":"e","x":569,"y":27.6},{"p":"e","x":1163,"y":28.4},{"p":"e","x":99,"y":24.4},{"p":"e","x":150,"y":23.5},{"p":"e","x":211,"y":22.6},{"p":"e","x":275,"y":20.8},{"p":"e","x":396,"y":23.3},{"p":"e","x":476,"y":22.2},{"p":"e","x":818,"y":21.7},{"p":"e","x":1195,"y":22.9},{"p":"e","x":1569,"y":23.5},{"p":"e","x":1498,"y":23.5},{"p":"e","x":1671,"y":24.4},{"p":"e","x":1840,"y":22.2},{"p":"e","x":1901,"y":24.4},{"p":"e","x":2112,"y":24.4},{"p":"e","x":2208,"y":20.4},{"p":"e","x":2735,"y":22.6},{"p":"e","x":2920,"y":20.8},{"p":"e","x":2926,"y":19.0},{"p":"e","x":2607,"y":16.6},{"p":"e","x":2470,"y":15.4},{"p":"e","x":2489,"y":10.8},{"p":"e","x":2368,"y":9.9},{"p":"e","x":2965,"y":6.3},{"p":"e","x":2958,"y":4.2},{"p":"e","x":2575,"y":2.3},{"p":"e","x":2505,"y":5.2},{"p":"e","x":2304,"y":3.1},{"p":"e","x":2201,"y":2.3},{"p":"e","x":2118,"y":2.5},{"p":"e","x":2000,"y":5.8},{"p":"e","x":2192,"y":8.1},{"p":"e","x":1904,"y":15.7},{"p":"e","x":1888,"y":11.7},{"p":"e","x":1824,"y":8.1},{"p":"e","x":1911,"y":0.5},{"p":"e","x":1808,"y":3.1},{"p":"e","x":1776,"y":5.4},{"p":"e","x":1729,"y":13.6},{"p":"e","x":1671,"y":6.3},{"p":"e","x":1649,"y":2.3},{"p":"e","x":1537,"y":5.4},{"p":"e","x":1511,"y":7.8},{"p":"e","x":1371,"y":11.7},{"p":"e","x":1431,"y":11.4},{"p":"e","x":1441,"y":3.6},{"p":"e","x":1313,"y":3.8},{"p":"e","x":1297,"y":0.9},{"p":"e","x":1249,"y":12.6},{"p":"e","x":1169,"y":12.1},{"p":"e","x":1195,"y":3.6},{"p":"e","x":1090,"y":6.3},{"p":"e","x":1042,"y":8.1},{"p":"e","x":946,"y":4.9},{"p":"e","x":859,"y":7.2},{"p":"e","x":834,"y":13.2},{"p":"e","x":738,"y":14.5},{"p":"e","x":585,"y":8.1},{"p":"e","x":562,"y":10.3},{"p":"e","x":412,"y":11.7},{"p":"e","x":409,"y":8.1},{"p":"e","x":297,"y":12.1},{"p":"e","x":211,"y":14.5},{"p":"e","x":99,"y":14.5},{"p":"e","x":35,"y":14.5},{"p":"e","x":125,"y":4.5},{"p":"e","x":227,"y":7.2},
      {"p":"e","x":20,"y":3.0},{"p":"e","x":60,"y":1.5},{"p":"e","x":100,"y":4.5},{"p":"e","x":140,"y":2.0},{"p":"e","x":180,"y":5.5},{"p":"e","x":220,"y":1.0},{"p":"e","x":260,"y":3.5},{"p":"e","x":300,"y":2.5},{"p":"e","x":340,"y":6.0},{"p":"e","x":380,"y":1.8},{"p":"e","x":420,"y":3.2},{"p":"e","x":460,"y":5.0},{"p":"e","x":500,"y":1.2},{"p":"e","x":540,"y":2.8},{"p":"e","x":600,"y":4.0},{"p":"e","x":650,"y":1.5},{"p":"e","x":700,"y":3.0},{"p":"e","x":760,"y":5.5},{"p":"e","x":820,"y":2.0},{"p":"e","x":900,"y":3.5},{"p":"e","x":980,"y":2.0},{"p":"e","x":1100,"y":1.5},{"p":"e","x":1150,"y":4.0},{"p":"e","x":1250,"y":2.5},{"p":"e","x":1350,"y":1.8},{"p":"e","x":1500,"y":2.2},
      {"p":"e","x":0,"y":0},{"p":"e","x":12,"y":0},{"p":"e","x":25,"y":0},{"p":"e","x":38,"y":0},{"p":"e","x":50,"y":0},{"p":"e","x":62,"y":0},{"p":"e","x":75,"y":0},{"p":"e","x":88,"y":0},{"p":"e","x":100,"y":0},{"p":"e","x":112,"y":0},{"p":"e","x":125,"y":0},{"p":"e","x":140,"y":0},{"p":"e","x":155,"y":0},{"p":"e","x":170,"y":0},{"p":"e","x":185,"y":0},{"p":"e","x":200,"y":0},{"p":"e","x":215,"y":0},{"p":"e","x":230,"y":0},{"p":"e","x":245,"y":0},{"p":"e","x":260,"y":0},{"p":"e","x":275,"y":0},{"p":"e","x":290,"y":0},{"p":"e","x":305,"y":0},{"p":"e","x":320,"y":0},{"p":"e","x":340,"y":0},{"p":"e","x":360,"y":0},{"p":"e","x":380,"y":0},{"p":"e","x":400,"y":0},{"p":"e","x":420,"y":0},{"p":"e","x":440,"y":0},{"p":"e","x":460,"y":0},{"p":"e","x":480,"y":0},{"p":"e","x":500,"y":0},{"p":"e","x":520,"y":0},{"p":"e","x":545,"y":0},{"p":"e","x":570,"y":0},{"p":"e","x":600,"y":0},{"p":"e","x":630,"y":0},{"p":"e","x":660,"y":0},{"p":"e","x":690,"y":0},{"p":"e","x":740,"y":0},{"p":"e","x":790,"y":0},{"p":"e","x":850,"y":0},{"p":"e","x":900,"y":0},{"p":"e","x":960,"y":0},{"p":"e","x":990,"y":0},{"p":"e","x":1025,"y":0},{"p":"e","x":1060,"y":0},{"p":"e","x":1100,"y":0},{"p":"e","x":1140,"y":0},{"p":"e","x":1180,"y":0},{"p":"e","x":1220,"y":0},{"p":"e","x":1410,"y":0},{"p":"e","x":1440,"y":0},{"p":"e","x":1480,"y":0},{"p":"e","x":1520,"y":0},{"p":"e","x":1570,"y":0},

      {"p":"f","x":1708,"y":42.9},{"p":"f","x":1803,"y":38.0},{"p":"f","x":1518,"y":34.5},{"p":"f","x":1699,"y":32.6},{"p":"f","x":1724,"y":32.6},{"p":"f","x":1461,"y":28.3},{"p":"f","x":1168,"y":27.7},{"p":"f","x":1194,"y":26.4},{"p":"f","x":1708,"y":23.3},{"p":"f","x":117,"y":22.0},{"p":"f","x":232,"y":21.6},{"p":"f","x":1889,"y":21.0},{"p":"f","x":1883,"y":20.8},{"p":"f","x":419,"y":19.9},{"p":"f","x":2200,"y":19.9},{"p":"f","x":552,"y":19.2},{"p":"f","x":1302,"y":18.9},{"p":"f","x":1470,"y":18.6},{"p":"f","x":2191,"y":18.2},{"p":"f","x":1168,"y":17.2},{"p":"f","x":1715,"y":17.2},{"p":"f","x":1883,"y":17.6},{"p":"f","x":1194,"y":16.8},{"p":"f","x":1207,"y":16.3},{"p":"f","x":556,"y":16.5},{"p":"f","x":670,"y":16.4},{"p":"f","x":1505,"y":16.5},{"p":"f","x":22,"y":15.6},{"p":"f","x":73,"y":15.7},{"p":"f","x":1842,"y":16.0},{"p":"f","x":2959,"y":15.7},{"p":"f","x":25,"y":13.9},{"p":"f","x":660,"y":14.6},{"p":"f","x":683,"y":13.2},{"p":"f","x":222,"y":13.2},{"p":"f","x":371,"y":13.2},{"p":"f","x":1588,"y":13.7},{"p":"f","x":1518,"y":13.6},{"p":"f","x":1724,"y":14.6},{"p":"f","x":1168,"y":13.2},{"p":"f","x":1311,"y":12.6},{"p":"f","x":1588,"y":12.6},{"p":"f","x":1708,"y":12.3},{"p":"f","x":1883,"y":12.0},{"p":"f","x":79,"y":11.0},{"p":"f","x":159,"y":11.1},{"p":"f","x":270,"y":11.3},{"p":"f","x":454,"y":11.6},{"p":"f","x":159,"y":10.0},{"p":"f","x":1784,"y":10.7},{"p":"f","x":2168,"y":10.9},{"p":"f","x":819,"y":9.6},{"p":"f","x":260,"y":9.2},{"p":"f","x":343,"y":9.4},{"p":"f","x":429,"y":8.9},{"p":"f","x":311,"y":8.3},{"p":"f","x":64,"y":8.3},{"p":"f","x":1168,"y":11.2},{"p":"f","x":1121,"y":9.6},{"p":"f","x":1159,"y":8.6},{"p":"f","x":1238,"y":9.9},{"p":"f","x":2731,"y":8.5},{"p":"f","x":2921,"y":8.7},{"p":"f","x":2572,"y":8.1},{"p":"f","x":1626,"y":9.0},{"p":"f","x":1724,"y":8.5},{"p":"f","x":1762,"y":8.7},{"p":"f","x":64,"y":6.3},{"p":"f","x":152,"y":6.4},{"p":"f","x":232,"y":6.3},{"p":"f","x":422,"y":6.8},{"p":"f","x":584,"y":6.6},{"p":"f","x":660,"y":7.0},{"p":"f","x":698,"y":5.6},{"p":"f","x":841,"y":6.1},{"p":"f","x":968,"y":6.2},{"p":"f","x":1048,"y":7.1},{"p":"f","x":1079,"y":6.6},{"p":"f","x":1375,"y":7.6},{"p":"f","x":1413,"y":5.7},{"p":"f","x":1435,"y":7.0},{"p":"f","x":1651,"y":6.4},{"p":"f","x":1797,"y":6.2},{"p":"f","x":2111,"y":6.0},{"p":"f","x":2111,"y":3.9},{"p":"f","x":2492,"y":4.9},{"p":"f","x":2508,"y":4.5},{"p":"f","x":2365,"y":3.1},{"p":"f","x":2302,"y":2.9},{"p":"f","x":2604,"y":2.7},{"p":"f","x":2905,"y":2.6},{"p":"f","x":2915,"y":1.8},{"p":"f","x":2207,"y":2.4},{"p":"f","x":2210,"y":0.6},{"p":"f","x":2111,"y":1.5},{"p":"f","x":2000,"y":2.7},{"p":"f","x":1899,"y":3.6},{"p":"f","x":1708,"y":3.0},{"p":"f","x":1699,"y":4.5},{"p":"f","x":1724,"y":5.2},{"p":"f","x":1588,"y":2.7},{"p":"f","x":1508,"y":2.9},{"p":"f","x":1530,"y":1.7},{"p":"f","x":1429,"y":2.9},{"p":"f","x":1397,"y":1.3},{"p":"f","x":1508,"y":4.3},{"p":"f","x":1413,"y":4.3},{"p":"f","x":1254,"y":1.6},{"p":"f","x":1181,"y":2.0},{"p":"f","x":1048,"y":1.1},{"p":"f","x":1086,"y":2.6},{"p":"f","x":959,"y":2.0},{"p":"f","x":946,"y":0.9},
      {"p":"f","x":10,"y":4.5},{"p":"f","x":30,"y":2.0},{"p":"f","x":50,"y":3.5},{"p":"f","x":70,"y":1.2},{"p":"f","x":90,"y":5.2},{"p":"f","x":110,"y":2.6},{"p":"f","x":130,"y":0.8},{"p":"f","x":150,"y":4.0},{"p":"f","x":170,"y":1.8},{"p":"f","x":190,"y":3.0},{"p":"f","x":210,"y":5.5},{"p":"f","x":230,"y":1.2},{"p":"f","x":250,"y":2.5},{"p":"f","x":270,"y":4.2},{"p":"f","x":290,"y":0.9},{"p":"f","x":310,"y":3.2},{"p":"f","x":330,"y":1.6},{"p":"f","x":350,"y":5.0},{"p":"f","x":370,"y":2.2},{"p":"f","x":390,"y":0.7},{"p":"f","x":410,"y":3.8},{"p":"f","x":430,"y":1.4},{"p":"f","x":450,"y":2.8},{"p":"f","x":470,"y":4.6},{"p":"f","x":490,"y":1.0},{"p":"f","x":510,"y":3.4},{"p":"f","x":530,"y":2.0},{"p":"f","x":550,"y":5.3},{"p":"f","x":570,"y":1.5},{"p":"f","x":590,"y":2.6},{"p":"f","x":610,"y":0.8},{"p":"f","x":630,"y":3.6},{"p":"f","x":650,"y":1.9},{"p":"f","x":680,"y":4.5},{"p":"f","x":720,"y":1.2},{"p":"f","x":760,"y":2.4},{"p":"f","x":790,"y":3.5},{"p":"f","x":830,"y":1.0},{"p":"f","x":860,"y":2.2},{"p":"f","x":880,"y":4.8},{"p":"f","x":20,"y":1.0},{"p":"f","x":60,"y":2.8},{"p":"f","x":100,"y":1.6},{"p":"f","x":140,"y":2.2},{"p":"f","x":180,"y":0.9},{"p":"f","x":220,"y":2.9},{"p":"f","x":260,"y":1.5},{"p":"f","x":300,"y":2.0},{"p":"f","x":340,"y":1.0},{"p":"f","x":380,"y":2.6},{"p":"f","x":420,"y":1.9},{"p":"f","x":460,"y":1.2},{"p":"f","x":500,"y":2.3},{"p":"f","x":540,"y":0.9},{"p":"f","x":580,"y":1.8},{"p":"f","x":440,"y":5.7},{"p":"f","x":360,"y":6.0},{"p":"f","x":200,"y":7.3},{"p":"f","x":120,"y":7.0},{"p":"f","x":280,"y":4.9},{"p":"f","x":520,"y":6.2},{"p":"f","x":620,"y":5.7},{"p":"f","x":700,"y":6.0},{"p":"f","x":760,"y":7.0},{"p":"f","x":800,"y":4.5},{"p":"f","x":930,"y":1.5},{"p":"f","x":1000,"y":3.0},{"p":"f","x":1050,"y":4.5},{"p":"f","x":1120,"y":3.5},{"p":"f","x":1150,"y":5.3},{"p":"f","x":1200,"y":4.0},{"p":"f","x":1250,"y":2.8},{"p":"f","x":1280,"y":6.0},
      {"p":"f","x":0,"y":0.4},{"p":"f","x":15,"y":0.4},{"p":"f","x":30,"y":0.4},{"p":"f","x":45,"y":0.4},{"p":"f","x":60,"y":0.4},{"p":"f","x":75,"y":0.4},{"p":"f","x":90,"y":0.4},{"p":"f","x":105,"y":0.4},{"p":"f","x":120,"y":0.4},{"p":"f","x":140,"y":0.4},{"p":"f","x":160,"y":0.4},{"p":"f","x":180,"y":0.4},{"p":"f","x":200,"y":0.4},{"p":"f","x":220,"y":0.4},{"p":"f","x":240,"y":0.4},{"p":"f","x":260,"y":0.4},{"p":"f","x":280,"y":0.4},{"p":"f","x":300,"y":0.4},{"p":"f","x":320,"y":0.4},{"p":"f","x":340,"y":0.4},{"p":"f","x":360,"y":0.4},{"p":"f","x":380,"y":0.4},{"p":"f","x":400,"y":0.4},{"p":"f","x":420,"y":0.4},{"p":"f","x":440,"y":0.4},{"p":"f","x":460,"y":0.4},{"p":"f","x":480,"y":0.4},{"p":"f","x":500,"y":0.4},{"p":"f","x":530,"y":0.4},{"p":"f","x":560,"y":0.4},{"p":"f","x":600,"y":0.4},{"p":"f","x":630,"y":0.4},{"p":"f","x":700,"y":0.4},{"p":"f","x":760,"y":0.4},{"p":"f","x":830,"y":0.4},{"p":"f","x":905,"y":0.4},{"p":"f","x":1400,"y":0.4},{"p":"f","x":1470,"y":0.4},{"p":"f","x":1530,"y":0.4},{"p":"f","x":1590,"y":0.4},{"p":"f","x":1640,"y":0.4},{"p":"f","x":1690,"y":0.4},{"p":"f","x":1720,"y":0.4},{"p":"f","x":1750,"y":0.4},{"p":"f","x":1800,"y":0.4},{"p":"f","x":1840,"y":0.4},{"p":"f","x":1880,"y":0.4},{"p":"f","x":1905,"y":0.4}
    ]
  },
  "bounds": "flush",
  "columns": 3,
  "spacing": {"row": 67, "column": 120},
  "concat": [
    {
      "width": 318, "height": 326,
      "title": {"text": "(a)", "anchor": "start", "frame": "group", "orient": "top", "offset": -29, "dx": 8, "fontSize": 23, "fontWeight": "normal", "color": "#000"},
      "layer": [
        {"data": {"name": "zones"}, "transform": [{"filter": "datum.p == 'a'"}], "mark": {"type": "rect"},
         "encoding": {
           "x": {"field": "x0", "type": "quantitative", "scale": {"domain": [-29, 3010], "nice": false, "zero": false}, "axis": {"values": [0, 1000, 2000, 3000], "title": null, "zindex": 1}},
           "x2": {"field": "x1"},
           "color": {"field": "zone", "type": "nominal",
             "scale": {"domain": ["回避区 Avoidance zone", "过渡区 Transition zone", "稳定区 Stable zone"], "range": ["#eadce0", "#f4f4e6", "#e2e7e6"]},
             "legend": {"orient": "none", "legendX": 94, "legendY": 781, "direction": "horizontal", "title": null, "symbolType": "M-1,-0.6L1,-0.6L1,0.6L-1,0.6Z", "symbolSize": 2500, "symbolStrokeWidth": 0, "symbolOpacity": 1, "labelFontSize": 24, "labelColor": "#000", "labelOffset": 12, "columnPadding": 53, "labelLimit": 500, "padding": 0}}
         }},
        {"data": {"name": "pts"}, "transform": [{"filter": "datum.p == 'a'"}], "mark": {"type": "circle", "size": 60, "color": "#15134f", "opacity": 0.45},
         "encoding": {
           "x": {"field": "x", "type": "quantitative"},
           "y": {"field": "y", "type": "quantitative", "scale": {"domain": [-1.79, 15, 44.37], "range": [326, 185, 0], "nice": false, "zero": false},
                 "axis": {"values": [0, 15, 35], "zindex": 1, "title": "相对多度指数 Relative abundance index", "titleFontSize": 25, "titleX": -76, "titleY": 388, "titleAngle": 270, "titleBaseline": "middle", "titleAlign": "center"}}
         }},
        {"data": {"name": "fit"}, "transform": [{"filter": "datum.p == 'a'"}], "mark": {"type": "area", "color": "#857a7a", "opacity": 0.74},
         "encoding": {"x": {"field": "x", "type": "quantitative"}, "y": {"field": "lo", "type": "quantitative"}, "y2": {"field": "hi"}}},
        {"data": {"name": "bps"}, "transform": [{"filter": "datum.p == 'a'"}], "mark": {"type": "rule", "color": "#a3001e", "strokeWidth": 2.2, "strokeDash": [8, 4]},
         "encoding": {"x": {"field": "x", "type": "quantitative"}}},
        {"data": {"name": "fit"}, "transform": [{"filter": "datum.p == 'a'"}], "mark": {"type": "line", "color": "#000", "strokeWidth": 2},
         "encoding": {"x": {"field": "x", "type": "quantitative"}, "y": {"field": "fit", "type": "quantitative"}}}
      ]
    },
    {
      "width": 318, "height": 326,
      "title": {"text": "(b)", "anchor": "start", "frame": "group", "orient": "top", "offset": -29, "dx": 8, "fontSize": 23, "fontWeight": "normal", "color": "#000"},
      "layer": [
        {"data": {"name": "zones"}, "transform": [{"filter": "datum.p == 'b'"}], "mark": {"type": "rect"},
         "encoding": {
           "x": {"field": "x0", "type": "quantitative", "scale": {"domain": [-29, 3010], "nice": false, "zero": false}, "axis": {"values": [0, 1000, 2000, 3000], "title": null, "zindex": 1}},
           "x2": {"field": "x1"},
           "color": {"field": "zone", "type": "nominal"}
         }},
        {"data": {"name": "pts"}, "transform": [{"filter": "datum.p == 'b'"}], "mark": {"type": "circle", "size": 60, "color": "#15134f", "opacity": 0.45},
         "encoding": {
           "x": {"field": "x", "type": "quantitative"},
           "y": {"field": "y", "type": "quantitative", "scale": {"domain": [-1.16, 24.1], "nice": false, "zero": false}, "axis": {"values": [0, 10, 20], "title": null, "zindex": 1}}
         }},
        {"data": {"name": "fit"}, "transform": [{"filter": "datum.p == 'b'"}], "mark": {"type": "area", "color": "#857a7a", "opacity": 0.74},
         "encoding": {"x": {"field": "x", "type": "quantitative"}, "y": {"field": "lo", "type": "quantitative"}, "y2": {"field": "hi"}}},
        {"data": {"name": "bps"}, "transform": [{"filter": "datum.p == 'b'"}], "mark": {"type": "rule", "color": "#a3001e", "strokeWidth": 2.2, "strokeDash": [8, 4]},
         "encoding": {"x": {"field": "x", "type": "quantitative"}}},
        {"data": {"name": "fit"}, "transform": [{"filter": "datum.p == 'b'"}], "mark": {"type": "line", "color": "#000", "strokeWidth": 2},
         "encoding": {"x": {"field": "x", "type": "quantitative"}, "y": {"field": "fit", "type": "quantitative"}}}
      ]
    },
    {
      "width": 318, "height": 326,
      "title": {"text": "(c)", "anchor": "start", "frame": "group", "orient": "top", "offset": -29, "dx": 8, "fontSize": 23, "fontWeight": "normal", "color": "#000"},
      "layer": [
        {"data": {"name": "zones"}, "transform": [{"filter": "datum.p == 'c'"}], "mark": {"type": "rect"},
         "encoding": {
           "x": {"field": "x0", "type": "quantitative", "scale": {"domain": [-29, 3010], "nice": false, "zero": false}, "axis": {"values": [0, 1000, 2000, 3000], "title": null, "zindex": 1}},
           "x2": {"field": "x1"},
           "color": {"field": "zone", "type": "nominal"}
         }},
        {"data": {"name": "pts"}, "transform": [{"filter": "datum.p == 'c'"}], "mark": {"type": "circle", "size": 60, "color": "#15134f", "opacity": 0.45},
         "encoding": {
           "x": {"field": "x", "type": "quantitative"},
           "y": {"field": "y", "type": "quantitative", "scale": {"domain": [-1.07, 22.24], "nice": false, "zero": false}, "axis": {"values": [0, 10, 20], "title": null, "zindex": 1}}
         }},
        {"data": {"name": "fit"}, "transform": [{"filter": "datum.p == 'c'"}], "mark": {"type": "area", "color": "#857a7a", "opacity": 0.74},
         "encoding": {"x": {"field": "x", "type": "quantitative"}, "y": {"field": "lo", "type": "quantitative"}, "y2": {"field": "hi"}}},
        {"data": {"name": "bps"}, "transform": [{"filter": "datum.p == 'c'"}], "mark": {"type": "rule", "color": "#a3001e", "strokeWidth": 2.2, "strokeDash": [8, 4]},
         "encoding": {"x": {"field": "x", "type": "quantitative"}}},
        {"data": {"name": "fit"}, "transform": [{"filter": "datum.p == 'c'"}], "mark": {"type": "line", "color": "#000", "strokeWidth": 2},
         "encoding": {"x": {"field": "x", "type": "quantitative"}, "y": {"field": "fit", "type": "quantitative"}}}
      ]
    },
    {
      "width": 318, "height": 327,
      "title": {"text": "(d)", "anchor": "start", "frame": "group", "orient": "top", "offset": -29, "dx": 8, "fontSize": 23, "fontWeight": "normal", "color": "#000"},
      "layer": [
        {"data": {"name": "zones"}, "transform": [{"filter": "datum.p == 'd'"}], "mark": {"type": "rect"},
         "encoding": {
           "x": {"field": "x0", "type": "quantitative", "scale": {"domain": [-29, 3010], "nice": false, "zero": false}, "axis": {"values": [0, 1000, 2000, 3000], "title": null, "zindex": 1}},
           "x2": {"field": "x1"},
           "color": {"field": "zone", "type": "nominal"}
         }},
        {"data": {"name": "pts"}, "transform": [{"filter": "datum.p == 'd'"}], "mark": {"type": "circle", "size": 60, "color": "#15134f", "opacity": 0.45},
         "encoding": {
           "x": {"field": "x", "type": "quantitative"},
           "y": {"field": "y", "type": "quantitative", "scale": {"domain": [-2.83, 57.7], "nice": false, "zero": false}, "axis": {"values": [0, 25, 50], "title": null, "zindex": 1}}
         }},
        {"data": {"name": "fit"}, "transform": [{"filter": "datum.p == 'd'"}], "mark": {"type": "area", "color": "#857a7a", "opacity": 0.74},
         "encoding": {"x": {"field": "x", "type": "quantitative"}, "y": {"field": "lo", "type": "quantitative"}, "y2": {"field": "hi"}}},
        {"data": {"name": "bps"}, "transform": [{"filter": "datum.p == 'd'"}], "mark": {"type": "rule", "color": "#a3001e", "strokeWidth": 2.2, "strokeDash": [8, 4]},
         "encoding": {"x": {"field": "x", "type": "quantitative"}}},
        {"data": {"name": "fit"}, "transform": [{"filter": "datum.p == 'd'"}], "mark": {"type": "line", "color": "#000", "strokeWidth": 2},
         "encoding": {"x": {"field": "x", "type": "quantitative"}, "y": {"field": "fit", "type": "quantitative"}}}
      ]
    },
    {
      "width": 318, "height": 327,
      "title": {"text": "(e)", "anchor": "start", "frame": "group", "orient": "top", "offset": -29, "dx": 8, "fontSize": 23, "fontWeight": "normal", "color": "#000"},
      "layer": [
        {"data": {"name": "zones"}, "transform": [{"filter": "datum.p == 'e'"}], "mark": {"type": "rect"},
         "encoding": {
           "x": {"field": "x0", "type": "quantitative", "scale": {"domain": [-29, 3010], "nice": false, "zero": false},
                 "axis": {"values": [0, 1000, 2000, 3000], "zindex": 1, "title": "距省道距离 Distance to the provincial road (m)", "titleX": 168, "titleY": 136, "titleBaseline": "middle", "titleAlign": "center"}},
           "x2": {"field": "x1"},
           "color": {"field": "zone", "type": "nominal"}
         }},
        {"data": {"name": "pts"}, "transform": [{"filter": "datum.p == 'e'"}], "mark": {"type": "circle", "size": 60, "color": "#15134f", "opacity": 0.45},
         "encoding": {
           "x": {"field": "x", "type": "quantitative"},
           "y": {"field": "y", "type": "quantitative", "scale": {"domain": [-7.4, 169.9], "nice": false, "zero": false}, "axis": {"values": [0, 75, 150], "title": null, "zindex": 1}}
         }},
        {"data": {"name": "fit"}, "transform": [{"filter": "datum.p == 'e'"}], "mark": {"type": "area", "color": "#857a7a", "opacity": 0.74},
         "encoding": {"x": {"field": "x", "type": "quantitative"}, "y": {"field": "lo", "type": "quantitative"}, "y2": {"field": "hi"}}},
        {"data": {"name": "bps"}, "transform": [{"filter": "datum.p == 'e'"}], "mark": {"type": "rule", "color": "#a3001e", "strokeWidth": 2.2, "strokeDash": [8, 4]},
         "encoding": {"x": {"field": "x", "type": "quantitative"}}},
        {"data": {"name": "fit"}, "transform": [{"filter": "datum.p == 'e'"}], "mark": {"type": "line", "color": "#000", "strokeWidth": 2},
         "encoding": {"x": {"field": "x", "type": "quantitative"}, "y": {"field": "fit", "type": "quantitative"}}}
      ]
    },
    {
      "width": 318, "height": 327,
      "title": {"text": "(f)", "anchor": "start", "frame": "group", "orient": "top", "offset": -29, "dx": 8, "fontSize": 23, "fontWeight": "normal", "color": "#000"},
      "layer": [
        {"data": {"name": "zones"}, "transform": [{"filter": "datum.p == 'f'"}], "mark": {"type": "rect"},
         "encoding": {
           "x": {"field": "x0", "type": "quantitative", "scale": {"domain": [-29, 3010], "nice": false, "zero": false}, "axis": {"values": [0, 1000, 2000, 3000], "title": null, "zindex": 1}},
           "x2": {"field": "x1"},
           "color": {"field": "zone", "type": "nominal"}
         }},
        {"data": {"name": "pts"}, "transform": [{"filter": "datum.p == 'f'"}], "mark": {"type": "circle", "size": 60, "color": "#15134f", "opacity": 0.45},
         "encoding": {
           "x": {"field": "x", "type": "quantitative"},
           "y": {"field": "y", "type": "quantitative", "scale": {"domain": [-2.06, 54.1], "nice": false, "zero": false}, "axis": {"values": [0, 25, 50], "title": null, "zindex": 1}}
         }},
        {"data": {"name": "fit"}, "transform": [{"filter": "datum.p == 'f'"}], "mark": {"type": "area", "color": "#857a7a", "opacity": 0.74},
         "encoding": {"x": {"field": "x", "type": "quantitative"}, "y": {"field": "lo", "type": "quantitative"}, "y2": {"field": "hi"}}},
        {"data": {"name": "bps"}, "transform": [{"filter": "datum.p == 'f'"}], "mark": {"type": "rule", "color": "#a3001e", "strokeWidth": 2.2, "strokeDash": [8, 4]},
         "encoding": {"x": {"field": "x", "type": "quantitative"}}},
        {"data": {"name": "fit"}, "transform": [{"filter": "datum.p == 'f'"}], "mark": {"type": "line", "color": "#000", "strokeWidth": 2},
         "encoding": {"x": {"field": "x", "type": "quantitative"}, "y": {"field": "fit", "type": "quantitative"}}}
      ]
    }
  ]
}
